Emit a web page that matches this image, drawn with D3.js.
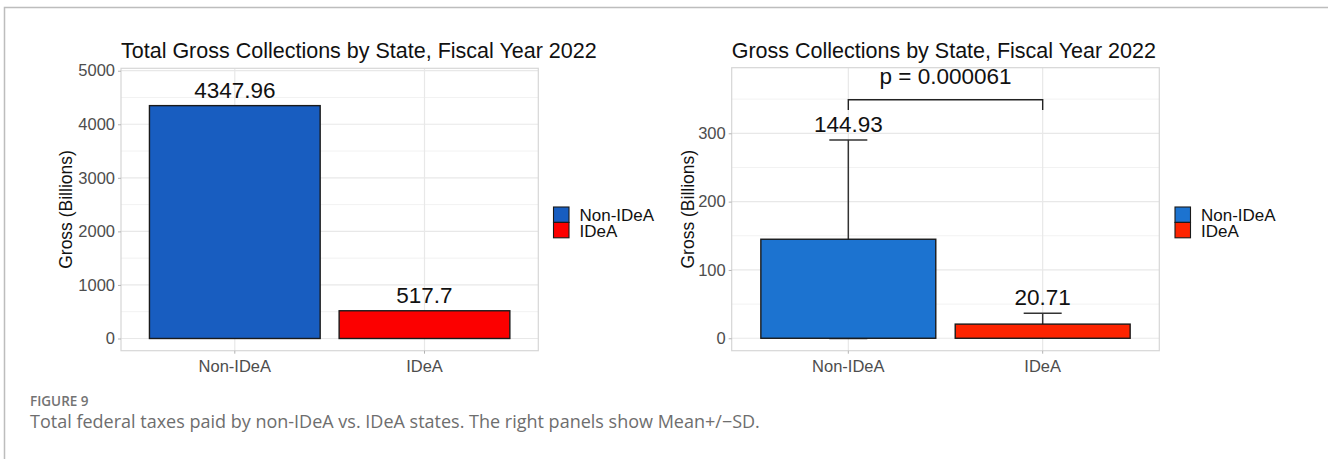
<!DOCTYPE html>
<html>
<head>
<meta charset="utf-8">
<script src="https://cdn.jsdelivr.net/npm/d3@7/dist/d3.min.js"></script>
<style>
  html, body { margin: 0; padding: 0; background: #fff; }
  svg { display: block; }
  .tick text { font-family: "Liberation Sans", Arial, sans-serif; }
</style>
</head>
<body>
<svg id="fig" width="1328" height="459"></svg>
<script>
// ---- data ----
const categories = ["Non-IDeA", "IDeA"];
const totalGross = [4347.96, 517.7];          // billions, FY2022 totals
const meanGross = [144.93, 20.71];            // billions, per-state mean
const sdGross = [145.4, 15.9];                // per-state standard deviation
const totalTicks = [0, 1000, 2000, 3000, 4000, 5000];
const totalMinor = [500, 1500, 2500, 3500, 4500];
const meanTicks = [0, 100, 200, 300];
const meanMinor = [50, 150, 250, 350];
const pValueText = "p = 0.000061";
const bracketLevel = 349;                     // y value of the significance bracket
const bracketTip = 15;                        // tip depth in data units

const leftColors = ["#185dc0", "#fc0000"];
const rightColors = ["#1c73d0", "#fd2400"];

const svg = d3.select("#fig");
const FONT = "'Liberation Sans', Arial, Helvetica, sans-serif";

// outer figure frame
svg.append("rect")
  .attr("x", 4.5).attr("y", 7.5).attr("width", 1400).attr("height", 500)
  .attr("fill", "none").attr("stroke", "#bdbdbd").attr("stroke-width", 1.5);

function drawPanel(opt) {
  const g = svg.append("g");
  const { x0, x1, y0, y1 } = opt;

  const x = d3.scaleBand().domain(categories).range([x0, x1])
    .paddingInner(0.1).paddingOuter(0.15);
  const y = d3.scaleLinear().domain(opt.yDomain).range([y1, y0]);

  // panel background + grid
  g.append("rect").attr("x", x0).attr("y", y0)
    .attr("width", x1 - x0).attr("height", y1 - y0).attr("fill", "#fff");

  g.append("g").selectAll("line").data(opt.minor).join("line")
    .attr("x1", x0).attr("x2", x1)
    .attr("y1", d => y(d)).attr("y2", d => y(d))
    .attr("stroke", "#f2f2f2").attr("stroke-width", 1);
  g.append("g").selectAll("line").data(opt.ticks).join("line")
    .attr("x1", x0).attr("x2", x1)
    .attr("y1", d => y(d)).attr("y2", d => y(d))
    .attr("stroke", "#e8e8e8").attr("stroke-width", 1.2);
  g.append("g").selectAll("line").data(categories).join("line")
    .attr("x1", d => x(d) + x.bandwidth() / 2).attr("x2", d => x(d) + x.bandwidth() / 2)
    .attr("y1", y0).attr("y2", y1)
    .attr("stroke", "#e8e8e8").attr("stroke-width", 1.2);

  // error bars sit beneath the bars
  if (opt.sd) {
    const capW = 38;
    const eb = g.append("g").attr("stroke", "#333").attr("stroke-width", 1.5);
    categories.forEach((c, i) => {
      const cx = x(c) + x.bandwidth() / 2;
      const lo = opt.values[i] - opt.sd[i], hi = opt.values[i] + opt.sd[i];
      eb.append("line").attr("x1", cx).attr("x2", cx).attr("y1", y(lo)).attr("y2", y(hi));
      eb.append("line").attr("x1", cx - capW / 2).attr("x2", cx + capW / 2).attr("y1", y(hi)).attr("y2", y(hi));
      eb.append("line").attr("x1", cx - capW / 2).attr("x2", cx + capW / 2).attr("y1", y(lo)).attr("y2", y(lo));
    });
  }

  // bars
  g.append("g").selectAll("rect").data(categories).join("rect")
    .attr("x", d => x(d)).attr("width", x.bandwidth())
    .attr("y", (d, i) => y(opt.values[i]))
    .attr("height", (d, i) => y(0) - y(opt.values[i]))
    .attr("fill", (d, i) => opt.colors[i])
    .attr("stroke", "#1a1a1a").attr("stroke-width", 1.4);

  // panel border
  g.append("rect").attr("x", x0).attr("y", y0)
    .attr("width", x1 - x0).attr("height", y1 - y0)
    .attr("fill", "none").attr("stroke", "#d6d6d6").attr("stroke-width", 1.2);

  // value labels
  g.append("g").selectAll("text").data(categories).join("text")
    .attr("x", d => x(d) + x.bandwidth() / 2)
    .attr("y", (d, i) => y(opt.values[i] + (opt.sd ? opt.sd[i] : 0)) - 8)
    .attr("text-anchor", "middle")
    .attr("font-family", FONT).attr("font-size", 22.5).attr("fill", "#111")
    .text((d, i) => opt.values[i]);

  // axes
  const ya = g.append("g").attr("transform", `translate(${x0},0)`)
    .call(d3.axisLeft(y).tickValues(opt.ticks).tickFormat(d3.format("d"))
      .tickSize(3).tickPadding(3));
  const xa = g.append("g").attr("transform", `translate(0,${y1})`)
    .call(d3.axisBottom(x).tickSize(3).tickPadding(4));
  [ya, xa].forEach(a => {
    a.select(".domain").remove();
    a.selectAll(".tick line").attr("stroke", "#b3b3b3");
    a.selectAll(".tick text").attr("font-size", 16.5).attr("fill", "#4d4d4d");
  });
  xa.selectAll(".tick text").attr("dy", "0.85em");

  // titles
  g.append("text").attr("x", x0).attr("y", 58)
    .attr("font-family", FONT).attr("font-size", 21.5).attr("fill", "#111")
    .text(opt.title);
  g.append("text")
    .attr("transform", `translate(${opt.yTitleX},${(y0 + y1) / 2}) rotate(-90)`)
    .attr("text-anchor", "middle")
    .attr("font-family", FONT).attr("font-size", 17.5).attr("fill", "#111")
    .text("Gross (Billions)");

  // legend
  const lg = g.append("g").attr("transform", `translate(${opt.legendX},207)`);
  categories.forEach((c, i) => {
    lg.append("rect").attr("x", 0).attr("y", i * 15.4).attr("width", 15.5).attr("height", 15.4)
      .attr("fill", opt.colors[i]).attr("stroke", "#1a1a1a").attr("stroke-width", 1.1);
    lg.append("text").attr("x", 26).attr("y", i * 16.6 + 8.2)
      .attr("dominant-baseline", "central")
      .attr("font-family", FONT).attr("font-size", 17).attr("fill", "#111")
      .text(c);
  });

  return { g, x, y };
}

drawPanel({
  x0: 121, x1: 538.3, y0: 68.3, y1: 350.7,
  yDomain: [-228, 5045],
  ticks: totalTicks, minor: totalMinor,
  values: totalGross, colors: leftColors,
  title: "Total Gross Collections by State, Fiscal Year 2022",
  yTitleX: 72, legendX: 553.5
});

const right = drawPanel({
  x0: 731.7, x1: 1159.3, y0: 67.7, y1: 350.7,
  yDomain: [-18.2, 396],
  ticks: meanTicks, minor: meanMinor,
  values: meanGross, sd: sdGross, colors: rightColors,
  title: "Gross Collections by State, Fiscal Year 2022",
  yTitleX: 694, legendX: 1175
});

// significance bracket between the two groups
{
  const { g, x, y } = right;
  const xa = x(categories[0]) + x.bandwidth() / 2;
  const xb = x(categories[1]) + x.bandwidth() / 2;
  const path = d3.path();
  path.moveTo(xa, y(bracketLevel - bracketTip));
  path.lineTo(xa, y(bracketLevel));
  path.lineTo(xb, y(bracketLevel));
  path.lineTo(xb, y(bracketLevel - bracketTip));
  g.append("path").attr("d", path.toString())
    .attr("fill", "none").attr("stroke", "#222").attr("stroke-width", 1.4);
  g.append("text").attr("x", (xa + xb) / 2).attr("y", y(bracketLevel) - 16)
    .attr("text-anchor", "middle")
    .attr("font-family", FONT).attr("font-size", 22.5).attr("fill", "#111")
    .text(pValueText);
}

// caption
svg.append("text").attr("x", 30).attr("y", 406)
  .attr("font-family", "'Open Sans', sans-serif").attr("font-size", 13.5)
  .attr("font-weight", 600).attr("fill", "#737373")
  .text("FIGURE 9");
svg.append("text").attr("x", 30).attr("y", 428)
  .attr("font-family", "'Open Sans', sans-serif").attr("font-size", 18)
  .attr("fill", "#6e6e6e")
  .text("Total federal taxes paid by non-IDeA vs. IDeA states. The right panels show Mean+/\u2212SD.");
</script>
</body>
</html>
